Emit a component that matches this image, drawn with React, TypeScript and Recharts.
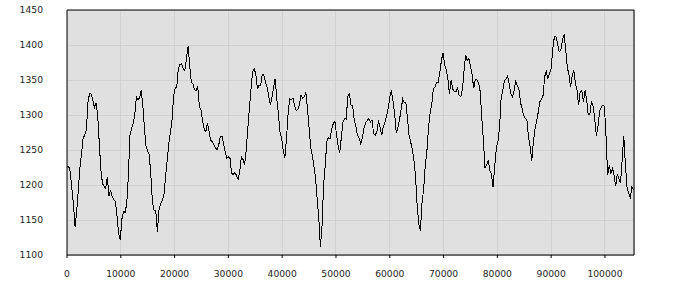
import React from "react";
import { CartesianGrid, Line, LineChart, ReferenceLine, XAxis, YAxis } from "recharts";

// sampling interval along the x axis
const SAMPLE_STEP = 300;

const priceA = [
  1226, 1227, 1219, 1195, 1172, 1140, 1162, 1193, 1225, 1245,
  1267, 1271, 1279, 1318, 1331, 1330, 1321, 1311, 1317, 1300,
  1260, 1221, 1202, 1198, 1195, 1212, 1184, 1193, 1183, 1179,
  1176, 1155, 1131, 1121, 1151, 1162, 1161, 1173, 1212, 1271,
  1280, 1288, 1300, 1327, 1321, 1325, 1335, 1314, 1281, 1255,
  1248, 1243, 1212, 1174, 1164, 1164, 1133, 1164,
];
const priceB = [
  1173, 1178, 1184, 1210, 1234, 1257, 1275, 1290, 1326, 1338,
  1340, 1367, 1372, 1373, 1366, 1364, 1380, 1398, 1372, 1347,
  1345, 1336, 1335, 1341, 1313, 1307, 1292, 1280, 1276, 1288,
  1277, 1264, 1262, 1258, 1253, 1250, 1257, 1269, 1270, 1259,
  1248, 1238, 1240, 1238, 1217, 1215, 1218, 1214, 1208, 1218,
  1240, 1237, 1228, 1248, 1280, 1309, 1336, 1362,
];
const priceC = [
  1366, 1358, 1337, 1343, 1342, 1358, 1357, 1347, 1340, 1327,
  1314, 1325, 1340, 1352, 1323, 1302, 1275, 1267, 1248, 1239,
  1266, 1302, 1323, 1322, 1324, 1313, 1306, 1308, 1314, 1329,
  1324, 1326, 1332, 1310, 1282, 1253, 1242, 1227, 1210, 1180,
  1153, 1112, 1140, 1200, 1228, 1262, 1268, 1266, 1279, 1288,
  1291, 1272, 1256, 1246, 1268, 1290, 1295, 1294,
];
const priceD = [
  1327, 1330, 1314, 1314, 1292, 1284, 1271, 1267, 1259, 1268,
  1281, 1289, 1292, 1295, 1290, 1293, 1273, 1271, 1276, 1292,
  1283, 1271, 1283, 1290, 1299, 1309, 1325, 1335, 1320, 1302,
  1275, 1281, 1293, 1307, 1323, 1318, 1317, 1294, 1270, 1261,
  1251, 1235, 1211, 1170, 1144, 1135, 1175, 1194, 1228, 1248,
  1282, 1303, 1315, 1337, 1340, 1347, 1347, 1360, 1378,
];
const priceE = [
  1389, 1372, 1364, 1352, 1330, 1350, 1337, 1334, 1333, 1338,
  1328, 1326, 1336, 1362, 1386, 1378, 1381, 1370, 1358, 1338,
  1351, 1350, 1346, 1334, 1296, 1265, 1225, 1228, 1235, 1221,
  1215, 1197, 1226, 1252, 1262, 1281, 1325, 1334, 1349, 1351,
  1356, 1344, 1330, 1326, 1334, 1348, 1342, 1338, 1318, 1309,
  1299, 1295, 1293, 1267, 1255, 1235, 1262, 1280,
];
const priceF = [
  1291, 1304, 1319, 1323, 1328, 1355, 1362, 1352, 1360, 1366,
  1394, 1412, 1412, 1402, 1390, 1393, 1407, 1415, 1394, 1368,
  1358, 1340, 1355, 1364, 1346, 1336, 1314, 1333, 1335, 1319,
  1335, 1322, 1300, 1302, 1320, 1312, 1295, 1270, 1283, 1305,
  1311, 1314, 1312, 1270, 1214, 1228, 1217, 1224, 1214, 1198,
  1216, 1209, 1203, 1236, 1270, 1230, 1197, 1188, 1182, 1197,
  1193,
];

const xTicks = [0, 10000, 20000, 30000, 40000, 50000, 60000, 70000, 80000, 90000, 100000];
const yTicks = [1100, 1150, 1200, 1250, 1300, 1350, 1400, 1450];

const prices = [...priceA, ...priceB, ...priceC, ...priceD, ...priceE, ...priceF];
const data = prices.map((v, i) => ({ x: i * SAMPLE_STEP, v }));

const tickStyle = { fontFamily: "DejaVu Sans", fontSize: 9.2, fill: "#222" };

export default function App() {
  return (
    <div style={{ position: "absolute", left: 0, top: 0 }}>
      <LineChart width={700} height={300} data={data} margin={{ top: 10, right: 0, left: 0, bottom: 0 }}>
        <CartesianGrid fill="#e0e0e0" stroke="#d0d0d0" shapeRendering="crispEdges" />
        <XAxis
          dataKey="x"
          type="number"
          domain={[0, 105400]}
          ticks={xTicks}
          interval={0}
          height={45}
          tickSize={3}
          tickMargin={12}
          stroke="#000"
          tick={tickStyle}
        />
        <YAxis
          domain={[1100, 1450]}
          ticks={yTicks}
          interval={0}
          width={67}
          tickLine={false}
          tickSize={0}
          tickMargin={24}
          stroke="#000"
          tick={tickStyle}
        />
        <YAxis
          yAxisId="right"
          orientation="right"
          domain={[1100, 1450]}
          ticks={yTicks}
          interval={0}
          width={66}
          tickSize={2}
          tickMargin={19}
          stroke="#000"
          tick={tickStyle}
        />
        <ReferenceLine y={1450} stroke="#000" />
        <Line
          type="linear"
          dataKey="v"
          stroke="#000"
          strokeWidth={1}
          dot={false}
          shapeRendering="crispEdges"
          isAnimationActive={false}
        />
      </LineChart>
    </div>
  );
}
